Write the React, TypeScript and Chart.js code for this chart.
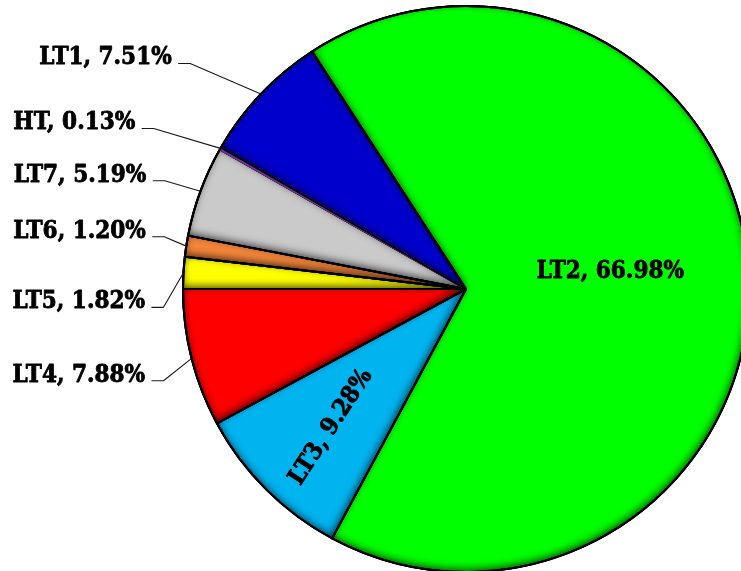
import React, { useEffect, useRef } from "react";
import { Chart, registerables } from "chart.js";

Chart.register(...registerables);

// ---- data ----
const categories = ["LT5", "LT6", "LT7", "HT", "LT1", "LT2", "LT3", "LT4"];
const shares = [1.82, 1.2, 5.19, 0.13, 7.51, 66.98, 9.28, 7.88];
const sliceColors = ["#ffff00", "#f5863a", "#cacaca", "#7030a0", "#0000cc", "#00ff00", "#00b4f0", "#ff0000"];

// ---- label layout (styling, not data) ----
type LabelStyle =
  | { mode: "out"; elbow: [number, number] }
  | { mode: "in"; frac: number; nudge: [number, number]; rot: number };
const labelLayout: LabelStyle[] = [
  { mode: "out", elbow: [-20, 34.5] },
  { mode: "out", elbow: [-22, -9.4] },
  { mode: "out", elbow: [-35.7, -10.4] },
  { mode: "out", elbow: [-66.7, -19.9] },
  { mode: "out", elbow: [-70.7, -30.6] },
  { mode: "in", frac: 0.51, nudge: [0, -11], rot: 0 },
  { mode: "in", frac: 0.68, nudge: [1, 2], rot: -57 },
  { mode: "out", elbow: [-28.1, 22.4] },
];
const LABEL_FONT = "bold 24px 'DejaVu Serif Condensed', 'DejaVu Serif'";

const labelPlugin = {
  id: "pieLabels",
  afterDatasetsDraw(chart: any) {
    const ctx: CanvasRenderingContext2D = chart.ctx;
    const meta = chart.getDatasetMeta(0);
    const arcs = meta.data;
    if (!arcs.length) return;
    const cx = arcs[0].x;
    const cy = arcs[0].y;
    const R = arcs[0].outerRadius;

    // bevel-like inner shadow per slice
    arcs.forEach((arc: any) => {
      ctx.save();
      ctx.beginPath();
      ctx.moveTo(cx, cy);
      ctx.arc(cx, cy, R, arc.startAngle, arc.endAngle);
      ctx.closePath();
      ctx.clip();
      ctx.beginPath();
      ctx.rect(cx - R - 200, cy - R - 200, 2 * R + 400, 2 * R + 400);
      ctx.moveTo(cx, cy);
      ctx.arc(cx, cy, R, arc.startAngle, arc.endAngle);
      ctx.closePath();
      ctx.shadowColor = "rgba(0,0,0,0.75)";
      ctx.shadowBlur = 9;
      ctx.shadowOffsetX = -1;
      ctx.shadowOffsetY = -2.5;
      ctx.fillStyle = "#000";
      ctx.fill("evenodd");
      ctx.restore();
    });

    // outlines again over shading
    ctx.save();
    ctx.lineWidth = 2;
    ctx.lineJoin = "round";
    arcs.forEach((arc: any, i: number) => {
      ctx.beginPath();
      ctx.moveTo(cx, cy);
      ctx.arc(cx, cy, R, arc.startAngle, arc.endAngle);
      ctx.closePath();
      ctx.strokeStyle = categories[i] === "HT" ? sliceColors[i] : "#000";
      ctx.stroke();
    });
    ctx.beginPath();
    ctx.arc(cx, cy, R, 0, Math.PI * 2);
    ctx.strokeStyle = "#000";
    ctx.stroke();
    ctx.restore();

    ctx.save();
    ctx.font = LABEL_FONT;
    ctx.fillStyle = "#000";
    ctx.lineJoin = "round";
    const drawText = (t: string, x: number, y: number) => {
      ctx.lineWidth = 0.8;
      ctx.strokeStyle = "#000";
      ctx.strokeText(t, x, y);
      ctx.fillText(t, x, y);
    };
    arcs.forEach((arc: any, i: number) => {
      const text = `${categories[i]}, ${shares[i].toFixed(2)}%`;
      const a = (arc.startAngle + arc.endAngle) / 2;
      const lay = labelLayout[i];
      if (lay.mode === "out") {
        const ex = cx + R * Math.cos(a);
        const ey = cy + R * Math.sin(a);
        const bx = ex + lay.elbow[0];
        const by = ey + lay.elbow[1];
        ctx.beginPath();
        ctx.moveTo(ex, ey);
        ctx.lineTo(bx, by);
        ctx.lineTo(bx - 12, by);
        ctx.strokeStyle = "#1a1a1a";
        ctx.lineWidth = 1.1;
        ctx.stroke();
        ctx.textAlign = "right";
        ctx.textBaseline = "alphabetic";
        drawText(text, bx - 18.5, by + 1);
      } else {
        const px = cx + lay.frac * R * Math.cos(a) + lay.nudge[0];
        const py = cy + lay.frac * R * Math.sin(a) + lay.nudge[1];
        ctx.save();
        ctx.translate(px, py);
        ctx.rotate((lay.rot * Math.PI) / 180);
        ctx.textAlign = "center";
        ctx.textBaseline = "middle";
        drawText(text, 0, 0);
        ctx.restore();
      }
    });
    ctx.restore();
  },
};

export default function App() {
  const ref = useRef<HTMLCanvasElement>(null);
  useEffect(() => {
    if (!ref.current) return;
    const chart = new Chart(ref.current, {
      type: "pie",
      data: {
        labels: categories,
        datasets: [
          {
            data: shares,
            backgroundColor: sliceColors,
            borderColor: "#000",
            borderWidth: 2,
          },
        ],
      },
      options: {
        animation: false,
        responsive: false,
        events: [],
        rotation: 270,
        layout: { padding: { left: 182, top: 5, right: 10, bottom: 7 } },
        plugins: {
          legend: { display: false },
          tooltip: { enabled: false },
        },
      },
      plugins: [labelPlugin],
    });
    return () => chart.destroy();
  }, []);
  return (
    <div
      style={{
        position: "fixed",
        left: 0,
        top: 0,
        width: 741,
        height: 571,
        overflow: "hidden",
        background: "#fff",
      }}
    >
      <canvas ref={ref} width={760} height={580} style={{ display: "block", width: 760, height: 580 }} />
    </div>
  );
}
